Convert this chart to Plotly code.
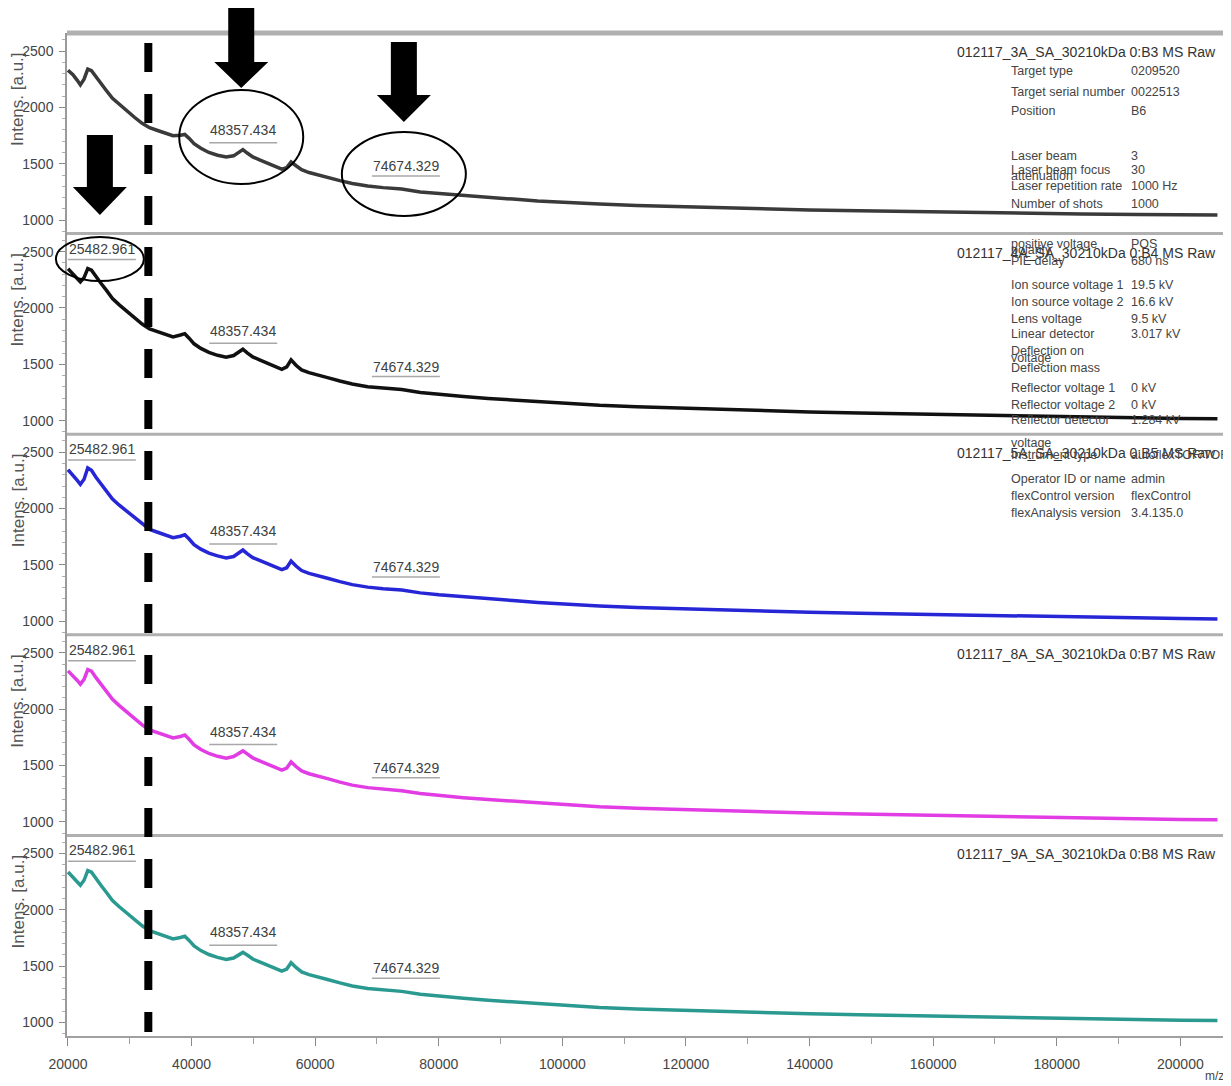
import plotly.graph_objects as go
from plotly.subplots import make_subplots

# ---------------- data ----------------
mz_values = [20000, 20800, 21500, 22000, 22600, 23200, 23800, 24500, 25300, 26200,
             27200, 28300, 29500, 30800, 32000, 33200, 34500, 35800, 37000, 38200,
             38900, 39600, 40400, 41500, 42800, 44200, 45600, 46800, 47600, 48300,
             49000, 49900, 51000, 52200, 53400, 54600, 55400, 56100, 56900, 57800,
             59000, 60500, 62000, 64000, 66000, 68500, 71000, 74000, 77000, 80000,
             84000, 88000, 92000, 96000, 101000, 106000, 112000, 118000, 125000, 132000,
             140000, 148000, 157000, 166000, 175000, 184000, 193000, 200000, 206000]

intens_3A = [2330, 2290, 2240, 2200, 2250, 2340, 2325, 2270, 2215, 2150,
             2080, 2025, 1970, 1910, 1858, 1820, 1795, 1770, 1748, 1752,
             1760, 1725, 1678, 1638, 1600, 1575, 1560, 1570, 1598, 1625,
             1595, 1560, 1535, 1510, 1482, 1452, 1465, 1515, 1482, 1447,
             1422, 1398, 1380, 1350, 1324, 1302, 1288, 1275, 1250, 1236,
             1218, 1200, 1186, 1170, 1155, 1142, 1130, 1120, 1110, 1100,
             1090, 1082, 1074, 1067, 1060, 1054, 1050, 1047, 1045]

intens_4A = [2348, 2305, 2262, 2232, 2270, 2350, 2335, 2278, 2222, 2158,
             2084, 2028, 1972, 1913, 1858, 1815, 1790, 1766, 1744, 1760,
             1772, 1732, 1682, 1641, 1606, 1580, 1563, 1578, 1608, 1634,
             1602, 1566, 1540, 1514, 1486, 1456, 1478, 1540, 1492, 1451,
             1426, 1400, 1382, 1352, 1325, 1302, 1287, 1276, 1250, 1233,
             1214, 1197, 1182, 1166, 1150, 1136, 1123, 1112, 1102, 1090,
             1078, 1068, 1058, 1049, 1040, 1031, 1025, 1020, 1016]

intens_5A = [2345, 2300, 2250, 2215, 2260, 2360, 2340, 2280, 2225, 2160,
             2085, 2030, 1975, 1915, 1860, 1815, 1790, 1765, 1742, 1755,
             1768, 1730, 1680, 1640, 1605, 1580, 1562, 1575, 1605, 1632,
             1600, 1565, 1540, 1515, 1488, 1458, 1475, 1535, 1490, 1450,
             1425, 1400, 1382, 1352, 1325, 1303, 1288, 1278, 1252, 1235,
             1216, 1199, 1184, 1167, 1150, 1135, 1122, 1112, 1104, 1092,
             1080, 1071, 1062, 1053, 1043, 1034, 1028, 1024, 1020]

intens_8A = [2340, 2298, 2255, 2222, 2265, 2352, 2338, 2282, 2226, 2162,
             2088, 2032, 1976, 1916, 1861, 1817, 1792, 1767, 1745, 1758,
             1770, 1733, 1683, 1642, 1607, 1582, 1566, 1580, 1610, 1630,
             1603, 1567, 1541, 1516, 1489, 1460, 1478, 1532, 1491, 1452,
             1427, 1402, 1384, 1353, 1326, 1304, 1289, 1277, 1251, 1234,
             1215, 1198, 1183, 1166, 1149, 1134, 1121, 1111, 1102, 1090,
             1078, 1069, 1060, 1051, 1041, 1033, 1026, 1021, 1018]

intens_9A = [2335, 2292, 2248, 2218, 2262, 2348, 2333, 2276, 2220, 2156,
             2082, 2027, 1972, 1913, 1858, 1814, 1789, 1764, 1741, 1754,
             1765, 1728, 1679, 1638, 1603, 1578, 1560, 1572, 1600, 1622,
             1598, 1563, 1538, 1513, 1486, 1456, 1474, 1530, 1488, 1449,
             1424, 1399, 1381, 1351, 1324, 1302, 1287, 1276, 1250, 1233,
             1214, 1197, 1182, 1165, 1148, 1133, 1120, 1110, 1101, 1089,
             1077, 1068, 1059, 1050, 1040, 1032, 1025, 1020, 1017]

panel_titles = ["012117_3A_SA_30210kDa 0:B3 MS Raw",
                "012117_4A_SA_30210kDa 0:B4 MS Raw",
                "012117_5A_SA_30210kDa 0:B5 MS Raw",
                "012117_8A_SA_30210kDa 0:B7 MS Raw",
                "012117_9A_SA_30210kDa 0:B8 MS Raw"]
series_values = [intens_3A, intens_4A, intens_5A, intens_8A, intens_9A]
series_colors = ["#3a3a3a", "#111111", "#2626d6", "#e23ce4", "#2a9a90"]

peak_mz = [25482.961, 48357.434, 74674.329]
peak_text = ["25482.961", "48357.434", "74674.329"]
peak_label_y = [2527, 1799, 1480]
peak_underline_y = [2430, 1686, 1392]

x_tickvals = [20000, 40000, 60000, 80000, 100000, 120000, 140000, 160000, 180000, 200000]
y_tickvals = [1000, 1500, 2000, 2500]

meta_labels = [
    ("Target type", "0209520", 71), ("Target serial number", "0022513", 92),
    ("Position", "B6", 111), ("Laser beam", "3", 156),
    ("Laser beam focus", "30", 170), ("attenuation", "", 176),
    ("Laser repetition rate", "1000 Hz", 186), ("Number of shots", "1000", 204),
    ("positive voltage", "POS", 244), ("polarity", "", 250),
    ("PIE delay", "680 ns", 261), ("Ion source voltage 1", "19.5 kV", 285),
    ("Ion source voltage 2", "16.6 kV", 302), ("Lens voltage", "9.5 kV", 319),
    ("Linear detector", "3.017 kV", 334), ("Deflection on", "", 351),
    ("voltage", "", 358), ("Deflection mass", "", 368),
    ("Reflector voltage 1", "0 kV", 388), ("Reflector voltage 2", "0 kV", 405),
    ("Reflector detector", "1.284 kV", 420), ("voltage", "", 443),
    ("Instrument type", "autoflexTOF/TOF", 455), ("Operator ID or name", "admin", 479),
    ("flexControl version", "flexControl", 496), ("flexAnalysis version", "3.4.135.0", 513),
]

# ---------------- geometry (screen pixel coordinates; page body has an 8px margin) ----------------
OFF = 8
W, H = 1223, 1078
ML, MR, MT, MB = 59, 8, 25, 50
PW = W - ML - MR
PH = H - MT - MB
X_RANGE = [19840, 206900]
Y_RANGE = [880, 2660]
NP = 5
PANEL_H = PH / NP

FONT = "Liberation Sans, Arial, sans-serif"


def px_x(sx):
    return (sx - OFF - ML) / PW


def px_y(sy):
    return (H - MB - (sy - OFF)) / PH


def mz_px(m):
    return OFF + ML + (m - X_RANGE[0]) / (X_RANGE[1] - X_RANGE[0]) * PW


def panel_top(i):
    return OFF + MT + i * PANEL_H


fig = make_subplots(rows=NP, cols=1, shared_xaxes=True, vertical_spacing=0)

for i in range(NP):
    fig.add_trace(go.Scatter(x=mz_values, y=series_values[i], mode="lines",
                             line=dict(color=series_colors[i], width=3.5),
                             showlegend=False, hoverinfo="skip"),
                  row=i + 1, col=1)

for i in range(NP):
    fig.update_yaxes(row=i + 1, col=1, range=Y_RANGE, tickvals=y_tickvals,
                     ticks="outside", ticklen=6, tickcolor="#8a8a8a",
                     showline=True, linecolor="#9a9a9a", linewidth=1.5,
                     showgrid=False, zeroline=False, ticklabelstandoff=3,
                     minor=dict(dtick=100, ticks="outside", ticklen=3, tickcolor="#b0b0b0"),
                     tickfont=dict(family=FONT, size=14, color="#444"))
    fig.update_xaxes(row=i + 1, col=1, range=X_RANGE, showgrid=False, zeroline=False,
                     showline=False, ticks="", showticklabels=False)

fig.update_xaxes(row=NP, col=1, showline=True, linecolor="#a0a0a0", linewidth=2,
                 ticks="outside", ticklen=8, tickcolor="#8a8a8a",
                 tickvals=x_tickvals, tickformat="d", showticklabels=True,
                 ticklabelstandoff=6,
                 minor=dict(dtick=10000, ticks="outside", ticklen=6, tickcolor="#a0a0a0"),
                 tickfont=dict(family=FONT, size=14, color="#444"))

shapes = []
annotations = []

# panel separators
for i in range(NP):
    y = px_y(panel_top(i))
    shapes.append(dict(type="line", xref="paper", yref="paper", x0=0, x1=px_x(1226),
                       y0=y, y1=y, line=dict(color="#b0b0b0", width=5 if i == 0 else 3)))

# peak labels with underline, panel titles, y titles
for i in range(NP):
    yref = "y" if i == 0 else f"y{i + 1}"
    xref = "x" if i == 0 else f"x{i + 1}"
    for k in range(len(peak_mz)):
        if i == 0 and k == 0:
            continue
        annotations.append(dict(x=peak_mz[k], y=peak_label_y[k], xref=xref, yref=yref,
                                text=peak_text[k], showarrow=False,
                                font=dict(family=FONT, size=14, color="#404040"),
                                xanchor="center", yanchor="middle"))
        shapes.append(dict(type="line", xref=xref, yref=yref,
                           x0=peak_mz[k] - 5500, x1=peak_mz[k] + 5500,
                           y0=peak_underline_y[k], y1=peak_underline_y[k],
                           line=dict(color="#a8a8a8", width=1.5)))
    annotations.append(dict(x=px_x(1218), y=px_y(panel_top(i) + 19), xref="paper", yref="paper",
                            text=panel_titles[i], showarrow=False, xanchor="right", yanchor="middle",
                            font=dict(family=FONT, size=14, color="#333")))
    annotations.append(dict(x=px_x(18), y=px_y(panel_top(i) + 66), xref="paper", yref="paper",
                            text="Intens. [a.u.]", showarrow=False, textangle=-90,
                            xanchor="center", yanchor="middle",
                            font=dict(family=FONT, size=17, color="#555")))

# metadata text block
for lab, val, py in meta_labels:
    annotations.append(dict(x=px_x(1009), y=px_y(py), xref="paper", yref="paper", text=lab,
                            showarrow=False, xanchor="left", yanchor="middle",
                            font=dict(family=FONT, size=12.5, color="#444")))
    if val:
        annotations.append(dict(x=px_x(1129), y=px_y(py), xref="paper", yref="paper", text=val,
                                showarrow=False, xanchor="left", yanchor="middle",
                                font=dict(family=FONT, size=12.5, color="#444")))

annotations.append(dict(x=px_x(1214), y=px_y(1076), xref="paper", yref="paper", text="m/z",
                        showarrow=False, xanchor="center", yanchor="middle",
                        font=dict(family=FONT, size=12, color="#444")))

# block arrows (peak m/z, top, shaft bottom, tip) in screen pixels
arrow_specs = [(48357.434, 7, 62, 88), (74674.329, 42, 95, 122), (25482.961, 135, 187, 215)]
for m, top, sb, tip in arrow_specs:
    cx = mz_px(m) - 2
    pts = [(cx - 13, top), (cx + 13, top), (cx + 13, sb), (cx + 27, sb), (cx, tip),
           (cx - 27, sb), (cx - 13, sb)]
    path = "M " + " L ".join(f"{px_x(a):.5f},{px_y(b):.5f}" for a, b in pts) + " Z"
    shapes.append(dict(type="path", xref="paper", yref="paper", path=path,
                       fillcolor="black", line=dict(color="black", width=0)))

# ellipses around the peak labels (center y, rx, ry)
ellipse_specs = [(48357.434, 137, 62, 47), (74674.329, 174, 62, 42), (25482.961, 259, 44, 22)]
for m, cy, rx, ry in ellipse_specs:
    cx = mz_px(m) - 2
    shapes.append(dict(type="circle", xref="paper", yref="paper",
                       x0=px_x(cx - rx), x1=px_x(cx + rx), y0=px_y(cy + ry), y1=px_y(cy - ry),
                       line=dict(color="black", width=2)))

# dashed vertical marker
dash_px = mz_px(33000)
shapes.append(dict(type="line", xref="paper", yref="paper", x0=px_x(dash_px), x1=px_x(dash_px),
                   y0=px_y(43), y1=px_y(1032), line=dict(color="black", width=8, dash="29px,22px")))

fig.update_layout(width=W, height=H, margin=dict(l=ML, r=MR, t=MT, b=MB),
                  plot_bgcolor="white", paper_bgcolor="white",
                  shapes=shapes, annotations=annotations, showlegend=False)

fig.write_html("out.html")
